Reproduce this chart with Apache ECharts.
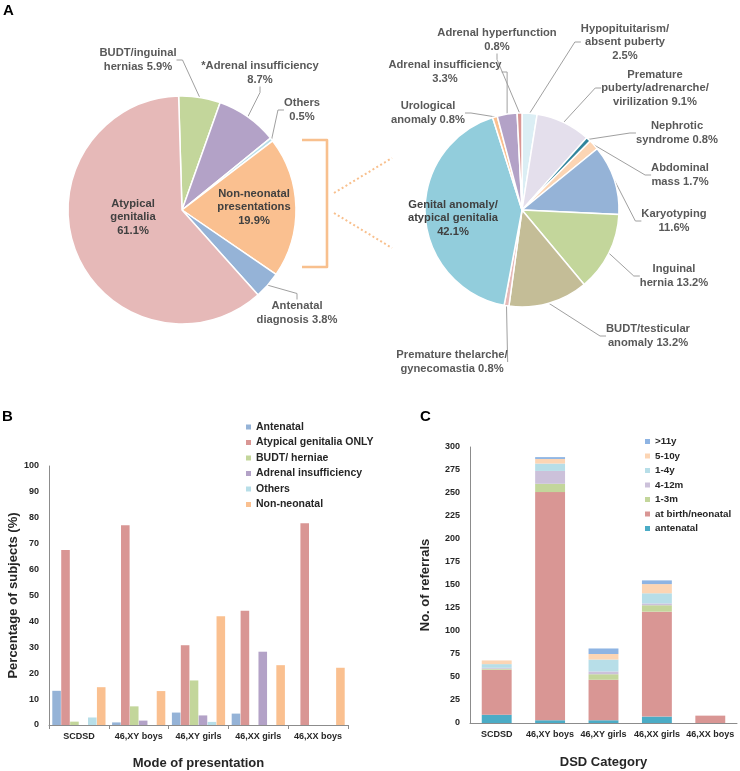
<!DOCTYPE html>
<html><head><meta charset="utf-8">
<script src="https://cdn.jsdelivr.net/npm/echarts@6/dist/echarts.min.js"></script>
<style>html,body{margin:0;padding:0;background:#fff}#c{width:740px;height:771px}</style>
</head><body><div id="c"></div>
<script>
// ---------- Panel A (left pie) ----------
const leftNames = ['BUDT/inguinal hernias','*Adrenal insufficiency','Others','Non-neonatal presentations','Antenatal diagnosis','Atypical genitalia'];
const leftValues = [5.9, 8.7, 0.5, 19.9, 3.8, 61.1];
const leftLabelTpl = ['BUDT/inguinal\nhernias {v}%','*Adrenal insufficiency\n{v}%','Others\n{v}%','Non-neonatal\npresentations\n{v}%','Antenatal\ndiagnosis {v}%','Atypical\ngenitalia\n{v}%'];
const leftColors = ['#c3d69b','#b3a2c7','#b7dee8','#fac090','#95b3d7','#e6b9b8'];
const leftInside = [false,false,false,true,false,true];
const leftLabelPos = [[138,60],[260,73],[302,110],[254,207],[297,313],[133,217]];

// ---------- Panel A (right pie) ----------
const rightNames = ['Hypopituitarism/absent puberty','Premature puberty/adrenarche/virilization','Nephrotic syndrome','Abdominal mass','Karyotyping','Inguinal hernia','BUDT/testicular anomaly','Premature thelarche/gynecomastia','Genital anomaly/atypical genitalia','Urological anomaly','Adrenal insufficiency','Adrenal hyperfunction'];
const rightValues = [2.5, 9.1, 0.8, 1.7, 11.6, 13.2, 13.2, 0.8, 42.1, 0.8, 3.3, 0.8];
const rightLabelTpl = ['Hypopituitarism/\nabsent puberty\n{v}%','Premature\npuberty/adrenarche/\nvirilization {v}%','Nephrotic\nsyndrome {v}%','Abdominal\nmass {v}%','Karyotyping\n{v}%','Inguinal\nhernia {v}%','BUDT/testicular\nanomaly {v}%','Premature thelarche/\ngynecomastia {v}%','Genital anomaly/\natypical genitalia\n{v}%','Urological\nanomaly {v}%','Adrenal insufficiency\n{v}%','Adrenal hyperfunction\n{v}%'];
const rightColors = ['#dbeef4','#e4dfec','#31859c','#fcd5b4','#95b3d7','#c3d69b','#c4bd97','#e6b9b8','#92cddc','#fac090','#b3a2c7','#d99694'];
const rightInside = [false,false,false,false,false,false,false,false,true,false,false,false];
const rightLabelPos = [[625,42],[655,88],[677,133],[680,175],[674,221],[674,276],[648,336],[452,362],[453,218],[428,113],[445,72],[497,40]];

// ---------- Panel B ----------
const bCategories = ['SCDSD','46,XY boys','46,XY girls','46,XX girls','46,XX boys'];
const bSeriesNames = ['Antenatal','Atypical genitalia ONLY','BUDT/ herniae','Adrenal insufficiency','Others','Non-neonatal'];
const bAntenatal = [13.2, 1.0, 4.8, 4.4, 0];
const bAtypical = [67.6, 77.1, 30.8, 44.1, 77.9];
const bBudt = [1.3, 7.2, 17.2, 0, 0];
const bAdrenal = [0, 1.7, 3.7, 28.3, 0];
const bOthers = [2.9, 0, 1.2, 0, 0];
const bNonNeonatal = [14.6, 13.1, 42.0, 23.1, 22.1];
const bColors = ['#95b3d7','#d99694','#c3d69b','#b3a2c7','#b7dee8','#fac090'];

// ---------- Panel C ----------
const cCategories = ['SCDSD','46,XY boys','46,XY girls','46,XX girls','46,XX boys'];
const cSeriesNames = ['antenatal','at birth/neonatal','1-3m','4-12m','1-4y','5-10y','>11y'];
const cAntenatal = [9, 3, 3, 7, 0];
const cBirth = [49, 248, 44, 114, 8];
const c1to3m = [1, 9, 6, 7, 0];
const c4to12m = [1, 14, 3, 2, 0];
const c1to4y = [4, 8, 13, 11, 0];
const c5to10y = [4, 5, 6, 10, 0];
const cOver11y = [0, 2, 6, 4, 0];
const cColors = ['#4bacc6','#d99694','#c3d69b','#ccc1da','#b7dee8','#fcd5b4','#8eb4e3'];

const FONT = '"Liberation Sans", Arial, sans-serif';
const TXT = '#595959';

function pieSeries(names, values, tpl, colors, inside, pos, center, radius, startAngle) {
  return {
    type: 'pie', center: center, radius: radius, startAngle: startAngle, clockwise: true,
    animation: false, silent: true,
    itemStyle: { borderColor: '#fff', borderWidth: 1.5 },
    label: { show: true, position: 'outside', fontFamily: FONT, fontWeight: 'bold', fontSize: 11.2, color: TXT, lineHeight: 13.5, align: 'center' },
    labelLine: { show: true, length: 8, length2: 6, lineStyle: { color: '#a0a0a0', width: 1 } },
    labelLayout: function (p) { const q = pos[p.dataIndex]; return { x: q[0], y: q[1], align: 'center', verticalAlign: 'middle' }; },
    data: names.map((n, i) => ({
      name: n, value: values[i],
      itemStyle: { color: colors[i] },
      label: { formatter: tpl[i].replace('{v}', values[i].toFixed(1)), color: inside[i] ? '#404040' : TXT },
      labelLine: { show: !inside[i] }
    }))
  };
}

const axisLabelStyle = { fontFamily: FONT, fontWeight: 'bold', fontSize: 9, color: '#262626' };
const axisNameStyle = { fontFamily: FONT, fontWeight: 'bold', fontSize: 13, color: '#262626' };
const axisLineStyle = { show: true, lineStyle: { color: '#8c8c8c', width: 1 } };

const bData = [bAntenatal, bAtypical, bBudt, bAdrenal, bOthers, bNonNeonatal];
const cData = [cAntenatal, cBirth, c1to3m, c4to12m, c1to4y, c5to10y, cOver11y];

const option = {
  animation: false,
  backgroundColor: '#fff',
  textStyle: { fontFamily: FONT },
  graphic: [
    { type: 'text', left: 3, top: 3, style: { text: 'A', font: 'bold 15px ' + FONT, fill: '#000' } },
    { type: 'text', left: 2, top: 409, style: { text: 'B', font: 'bold 15px ' + FONT, fill: '#000' } },
    { type: 'text', left: 420, top: 409, style: { text: 'C', font: 'bold 15px ' + FONT, fill: '#000' } },
    { type: 'polyline', shape: { points: [[302,140],[327,140],[327,267],[302,267]] }, style: { stroke: '#f8c08e', lineWidth: 2.6, fill: null, lineJoin: 'round' } },
    { type: 'line', shape: { x1: 334, y1: 193, x2: 392, y2: 158 }, style: { stroke: '#f8c08e', lineWidth: 2, lineDash: [2, 2.5] } },
    { type: 'line', shape: { x1: 334, y1: 213, x2: 392, y2: 248 }, style: { stroke: '#f8c08e', lineWidth: 2, lineDash: [2, 2.5] } }
  ],
  legend: [
    {
      data: bSeriesNames, orient: 'vertical', left: 246, top: 421, padding: 0, itemWidth: 5, itemHeight: 5, itemGap: 3.5, icon: 'rect',
      textStyle: { fontFamily: FONT, fontWeight: 'bold', fontSize: 10.5, color: '#262626', lineHeight: 12 }, selectedMode: false
    },
    {
      data: cSeriesNames.slice().reverse(), orient: 'vertical', left: 645, top: 436, padding: 0, itemWidth: 5, itemHeight: 5, itemGap: 3.5, icon: 'rect',
      textStyle: { fontFamily: FONT, fontWeight: 'bold', fontSize: 9.8, color: '#262626', lineHeight: 11 }, selectedMode: false
    }
  ],
  grid: [
    { left: 49, right: 392, top: 466, bottom: 46 },
    { left: 470, right: 3, top: 447, bottom: 48 }
  ],
  xAxis: [
    { type: 'category', gridIndex: 0, data: bCategories, axisLine: axisLineStyle, axisTick: { show: true, length: 4, lineStyle: { color: '#8c8c8c' } }, axisLabel: Object.assign({ margin: 7, interval: 0 }, axisLabelStyle), name: 'Mode of presentation', nameLocation: 'middle', nameGap: 32, nameTextStyle: axisNameStyle },
    { type: 'category', gridIndex: 1, data: cCategories, axisLine: axisLineStyle, axisTick: { show: false }, axisLabel: Object.assign({ margin: 7, interval: 0 }, axisLabelStyle), name: 'DSD Category', nameLocation: 'middle', nameGap: 33, nameTextStyle: axisNameStyle }
  ],
  yAxis: [
    { type: 'value', gridIndex: 0, min: 0, max: 100, interval: 10, axisLine: axisLineStyle, axisTick: { show: false }, splitLine: { show: false }, axisLabel: Object.assign({ margin: 10 }, axisLabelStyle), name: 'Percentage of subjects (%)', nameLocation: 'middle', nameGap: 28, nameTextStyle: axisNameStyle },
    { type: 'value', gridIndex: 1, min: 0, max: 300, interval: 25, axisLine: axisLineStyle, axisTick: { show: false }, splitLine: { show: false }, axisLabel: Object.assign({ margin: 10 }, axisLabelStyle), name: 'No. of referrals', nameLocation: 'middle', nameGap: 38, nameTextStyle: axisNameStyle }
  ],
  series: [
    pieSeries(leftNames, leftValues, leftLabelTpl, leftColors, leftInside, leftLabelPos, [182, 210], [0, 114], 91.7),
    pieSeries(rightNames, rightValues, rightLabelTpl, rightColors, rightInside, rightLabelPos, [522, 210], [0, 97], 90)
  ].concat(bSeriesNames.map((n, i) => ({
    type: 'bar', name: n, xAxisIndex: 0, yAxisIndex: 0, data: bData[i], barGap: '4%', barCategoryGap: '11%',
    itemStyle: { color: bColors[i] }, silent: true
  }))).concat(cSeriesNames.map((n, i) => ({
    type: 'bar', name: n, xAxisIndex: 1, yAxisIndex: 1, data: cData[i], stack: 'c', barCategoryGap: '44%',
    itemStyle: { color: cColors[i] }, silent: true
  })))
};

const chart = echarts.init(document.getElementById('c'), null, { renderer: 'canvas' });
chart.setOption(option);
</script>
</body></html>
